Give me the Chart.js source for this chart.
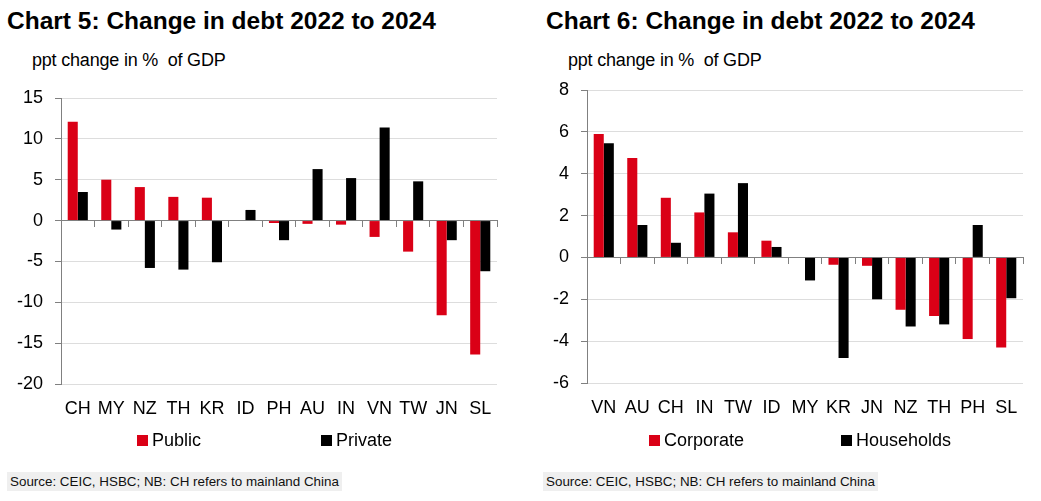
<!DOCTYPE html>
<html>
<head>
<meta charset="utf-8">
<script src="https://cdn.jsdelivr.net/npm/chart.js@4/dist/chart.umd.min.js"></script>
<style>
  body { margin: 0; background: #fff; width: 1041px; height: 501px; position: relative; overflow: hidden;
         font-family: "Liberation Sans", Arial, sans-serif; }
  .title { position: absolute; font: bold 24.5px "Liberation Sans", Arial, sans-serif; color: #000; white-space: nowrap; }
  .sub { position: absolute; font-size: 18px; color: #000; white-space: nowrap; letter-spacing: -0.2px; }
  .box { position: absolute; }
  .leg { position: absolute; font-size: 18px; color: #000; white-space: nowrap; line-height: 20px; }
  .leg i { display: inline-block; width: 11px; height: 11px; margin-right: 4px; vertical-align: 0px; }
  .src { position: absolute; font-size: 13.4px; background: #efefef; padding: 2px 3px; white-space: nowrap; color: #111; }
</style>
</head>
<body>
<div class="title" style="left:7px; top:7px;">Chart 5: Change in debt 2022 to 2024</div>
<div class="title" style="left:546px; top:7px;">Chart 6: Change in debt 2022 to 2024</div>
<div class="sub" style="left:32px; top:50px;">ppt change in %&nbsp; of GDP</div>
<div class="sub" style="left:568px; top:50px;">ppt change in %&nbsp; of GDP</div>

<div class="box" style="left:0; top:0; width:520px; height:432px;"><canvas id="c5"></canvas></div>
<div class="box" style="left:530px; top:0; width:511px; height:432px;"><canvas id="c6"></canvas></div>

<div class="leg" style="left:137px; top:430px;"><i style="background:#da0016"></i>Public</div>
<div class="leg" style="left:321px; top:430px;"><i style="background:#000"></i>Private</div>
<div class="leg" style="left:649px; top:430px;"><i style="background:#da0016"></i>Corporate</div>
<div class="leg" style="left:841px; top:430px;"><i style="background:#000"></i>Households</div>

<div class="src" style="left:7px; top:472px;">Source: CEIC, HSBC; NB: CH refers to mainland China</div>
<div class="src" style="left:543px; top:472px;">Source: CEIC, HSBC; NB: CH refers to mainland China</div>

<script>
const RED = '#da0016';
const AXIS = '#808080';
const GRID = '#dddddd';
const FONT = { family: '"Liberation Sans", Arial, sans-serif', size: 18 };

// chart 5
const labels5 = ['CH', 'MY', 'NZ', 'TH', 'KR', 'ID', 'PH', 'AU', 'IN', 'VN', 'TW', 'JN', 'SL'];
const publicDebt = [12.1, 5.0, 4.1, 2.9, 2.8, 0, -0.3, -0.4, -0.5, -2.0, -3.8, -11.6, -16.4];
const privateDebt = [3.5, -1.1, -5.8, -6.0, -5.1, 1.3, -2.4, 6.3, 5.2, 11.4, 4.8, -2.4, -6.2];

// chart 6
const labels6 = ['VN', 'AU', 'CH', 'IN', 'TW', 'ID', 'MY', 'KR', 'JN', 'NZ', 'TH', 'PH', 'SL'];
const corporate = [5.9, 4.75, 2.85, 2.15, 1.2, 0.8, 0, -0.35, -0.4, -2.5, -2.8, -3.9, -4.3];
const households = [5.45, 1.55, 0.7, 3.05, 3.55, 0.5, -1.1, -4.8, -2.0, -3.3, -3.2, 1.55, -1.95];

function makeChart(id, labels, redData, blackData, redName, blackName, yMin, yMax, step, yWidth, xHeight, padTop, padRight) {
  new Chart(document.getElementById(id), {
    type: 'bar',
    data: {
      labels: labels,
      datasets: [
        { label: redName, data: redData, backgroundColor: RED, categoryPercentage: 0.6, barPercentage: 1.0 },
        { label: blackName, data: blackData, backgroundColor: '#000', categoryPercentage: 0.6, barPercentage: 1.0 }
      ]
    },
    options: {
      responsive: true,
      maintainAspectRatio: false,
      animation: false,
      layout: { padding: { top: padTop, right: padRight, left: 0, bottom: 0 } },
      plugins: { legend: { display: false }, tooltip: { enabled: false } },
      scales: {
        x: {
          position: 'bottom',
          grid: { display: false, drawTicks: false },
          border: { display: false },
          ticks: { color: '#000', font: FONT, padding: 14, maxRotation: 0, autoSkip: false },
          afterFit: s => { s.height = xHeight; }
        },
        x2: {
          type: 'category',
          labels: labels,
          position: { y: 0 },
          offset: true,
          grid: { offset: true, drawOnChartArea: false, drawTicks: true, tickLength: 6, color: AXIS },
          border: { color: AXIS, width: 1 },
          ticks: { display: false }
        },
        y: {
          min: yMin,
          max: yMax,
          ticks: { stepSize: step, color: '#000', font: FONT, padding: 12 },
          grid: { color: GRID, tickColor: AXIS, tickLength: 6 },
          border: { color: AXIS, width: 1 },
          afterFit: s => { s.width = yWidth; }
        }
      }
    }
  });
}

makeChart('c5', labels5, publicDebt, privateDebt, 'Public', 'Private', -20, 15, 5, 61, 48, 98, 23);
makeChart('c6', labels6, corporate, households, 'Corporate', 'Households', -6, 8, 2, 57, 49, 90, 18);
</script>
</body>
</html>
